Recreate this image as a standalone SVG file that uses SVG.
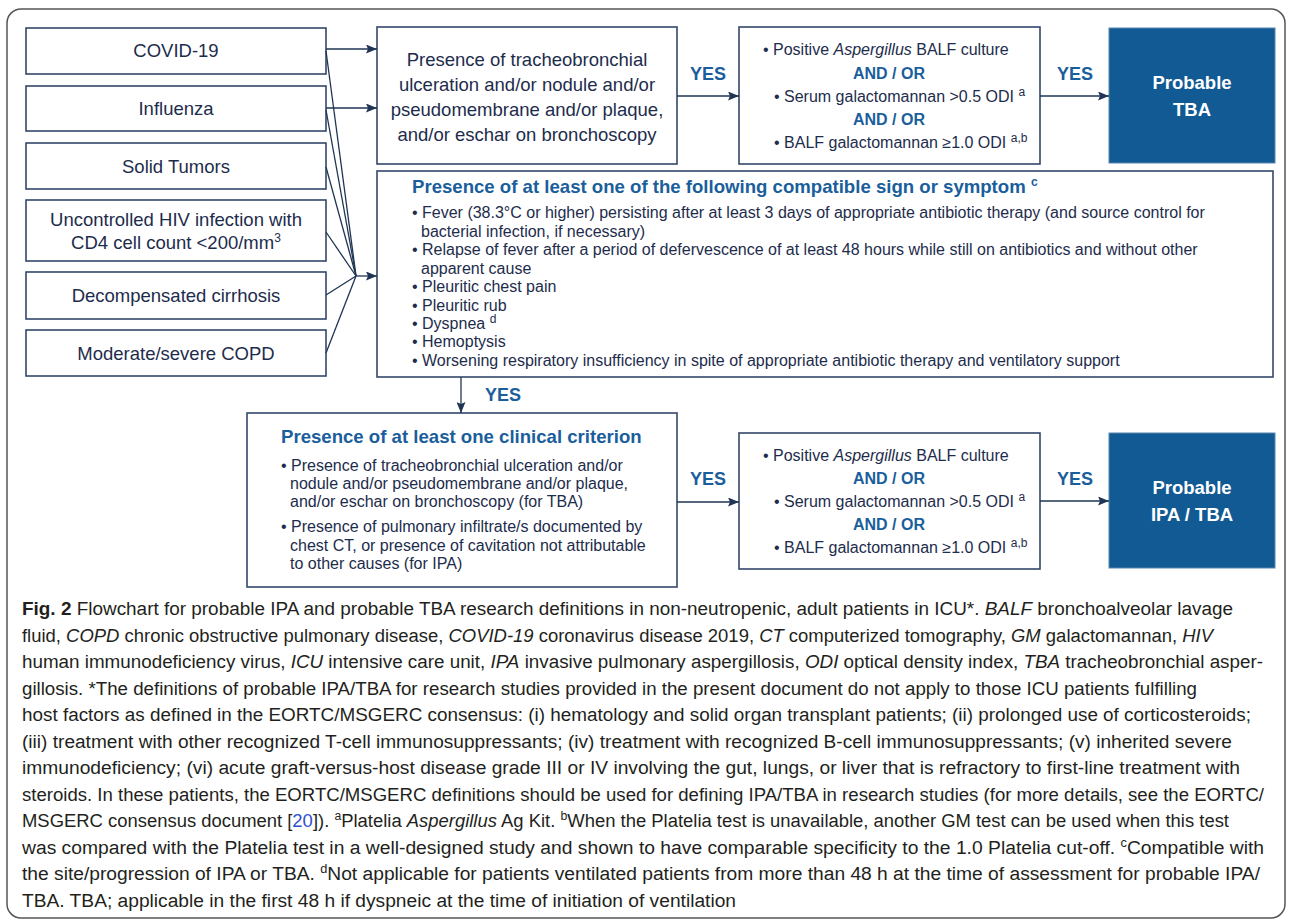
<svg xmlns="http://www.w3.org/2000/svg" width="1290" height="923" viewBox="0 0 1290 923">
<defs>
<marker id="ah" markerUnits="userSpaceOnUse" markerWidth="11" markerHeight="9" refX="11" refY="4.5" orient="auto">
<path d="M0,0 L11,4.5 L0,9 L2,4.5 z" fill="#1f3553"/>
</marker>
</defs>
<style>
.t{font-family:"Liberation Sans",Arial,Helvetica,sans-serif;fill:#1d2c4c}
.box{fill:#fff;stroke:#34486a;stroke-width:1.6}
.dark{fill:#115a94;stroke:#5a86b0;stroke-width:1}
.lbl{font-size:18.5px;text-anchor:middle}
.sm{font-size:16px}
.b3{font-size:16px}
.hd{font-weight:bold;fill:#1a5e9c;font-size:18.6px}
.ao{font-weight:bold;fill:#1a5e9c;font-size:16px;text-anchor:middle}
.yes{font-weight:bold;fill:#1a5e9c;font-size:18px;text-anchor:middle}
.wh{fill:#fff;font-weight:bold;font-size:18.5px;text-anchor:middle}
.sup{font-size:12px}
.cap{font-family:"Liberation Sans",Arial,sans-serif;font-size:18px;fill:#231f20}
.i{font-style:italic}
.con{stroke:#1f3553;stroke-width:1.3;fill:none}
</style>
<rect x="7" y="9" width="1278" height="909" rx="14" fill="#fff" stroke="#555" stroke-width="1.5"/>

<g id="n-covid"><rect class="box" x="26" y="28" width="300" height="46"/><text class="t lbl" x="176" y="57">COVID-19</text></g>
<g id="n-influenza"><rect class="box" x="26" y="86" width="300" height="45"/><text class="t lbl" x="176" y="115">Influenza</text></g>
<g id="n-tumors"><rect class="box" x="26" y="143" width="300" height="46"/><text class="t lbl" x="176" y="173">Solid Tumors</text></g>
<g id="n-hiv"><rect class="box" x="26" y="200" width="300" height="61"/><text class="t lbl" x="176" y="226">Uncontrolled HIV infection with</text><text class="t lbl" x="176" y="249">CD4 cell count &lt;200/mm<tspan class="sup" dy="-7">3</tspan></text></g>
<g id="n-cirrhosis"><rect class="box" x="26" y="272" width="300" height="47"/><text class="t lbl" x="176" y="302">Decompensated cirrhosis</text></g>
<g id="n-copd"><rect class="box" x="26" y="330" width="300" height="46"/><text class="t lbl" x="176" y="360">Moderate/severe COPD</text></g>

<g id="n-bronch"><rect class="box" x="377" y="27" width="300" height="137"/>
<text class="t lbl" x="527" y="66">Presence of tracheobronchial</text>
<text class="t lbl" x="527" y="91">ulceration and/or nodule and/or</text>
<text class="t lbl" x="527" y="116">pseudomembrane and/or plaque,</text>
<text class="t lbl" x="527" y="141">and/or eschar on bronchoscopy</text></g>

<g id="n-myco1"><rect class="box" x="739" y="27" width="301" height="137"/>
<text class="t b3" x="763" y="55">• Positive <tspan class="i">Aspergillus</tspan> BALF culture</text>
<text class="t ao" x="889" y="79">AND / OR</text>
<text class="t b3" x="774" y="102">• Serum galactomannan &gt;0.5 ODI <tspan class="sup" dy="-6">a</tspan></text>
<text class="t ao" x="889" y="125">AND / OR</text>
<text class="t b3" x="774" y="148">• BALF galactomannan ≥1.0 ODI <tspan class="sup" dy="-6">a,b</tspan></text></g>

<g id="n-tba"><rect class="dark" x="1109" y="28" width="166" height="135"/>
<text class="t wh" x="1192" y="89">Probable</text><text class="t wh" x="1192" y="116">TBA</text></g>

<g id="n-signs"><rect class="box" x="377" y="171" width="896" height="206"/>
<text class="t hd" x="412" y="193">Presence of at least one of the following compatible sign or symptom <tspan class="sup" dy="-7">c</tspan></text>
<text class="t sm" x="412" y="218">• Fever (38.3°C or higher) persisting after at least 3 days of appropriate antibiotic therapy (and source control for</text>
<text class="t sm" x="421" y="237">bacterial infection, if necessary)</text>
<text class="t sm" x="412" y="255">• Relapse of fever after a period of defervescence of at least 48 hours while still on antibiotics and without other</text>
<text class="t sm" x="421" y="274">apparent cause</text>
<text class="t sm" x="412" y="292">• Pleuritic chest pain</text>
<text class="t sm" x="412" y="311">• Pleuritic rub</text>
<text class="t sm" x="412" y="329">• Dyspnea <tspan class="sup" dy="-6">d</tspan></text>
<text class="t sm" x="412" y="347">• Hemoptysis</text>
<text class="t sm" x="412" y="366">• Worsening respiratory insufficiency in spite of appropriate antibiotic therapy and ventilatory support</text></g>

<g id="n-clinical"><rect class="box" x="247" y="413" width="430" height="174"/>
<text class="t hd" x="281" y="443">Presence of at least one clinical criterion</text>
<text class="t sm" x="281" y="471">• Presence of tracheobronchial ulceration and/or</text>
<text class="t sm" x="290" y="489">nodule and/or pseudomembrane and/or plaque,</text>
<text class="t sm" x="290" y="507">and/or eschar on bronchoscopy (for TBA)</text>
<text class="t sm" x="281" y="532">• Presence of pulmonary infiltrate/s documented by</text>
<text class="t sm" x="290" y="551">chest CT, or presence of cavitation not attributable</text>
<text class="t sm" x="290" y="569">to other causes (for IPA)</text></g>

<g id="n-myco2"><rect class="box" x="739" y="433" width="301" height="136"/>
<text class="t b3" x="763" y="461">• Positive <tspan class="i">Aspergillus</tspan> BALF culture</text>
<text class="t ao" x="889" y="484">AND / OR</text>
<text class="t b3" x="774" y="507">• Serum galactomannan &gt;0.5 ODI <tspan class="sup" dy="-6">a</tspan></text>
<text class="t ao" x="889" y="530">AND / OR</text>
<text class="t b3" x="774" y="553">• BALF galactomannan ≥1.0 ODI <tspan class="sup" dy="-6">a,b</tspan></text></g>

<g id="n-ipatba"><rect class="dark" x="1109" y="433" width="166" height="135"/>
<text class="t wh" x="1192" y="494">Probable</text><text class="t wh" x="1192" y="521">IPA / TBA</text></g>

<g id="connectors">
<line class="con" x1="326" y1="49" x2="377" y2="49" marker-end="url(#ah)"/>
<line class="con" x1="326" y1="108" x2="377" y2="108" marker-end="url(#ah)"/>
<polyline class="con" points="326,51 356,276"/>
<polyline class="con" points="326,110 356,276"/>
<polyline class="con" points="326,167 356,276"/>
<polyline class="con" points="326,232 356,276"/>
<polyline class="con" points="326,295 356,276"/>
<polyline class="con" points="326,353 356,276"/>
<line class="con" x1="356" y1="276" x2="377" y2="276" marker-end="url(#ah)"/>
<line class="con" x1="677" y1="96" x2="739" y2="96" marker-end="url(#ah)"/>
<line class="con" x1="1040" y1="96" x2="1109" y2="96" marker-end="url(#ah)"/>
<line class="con" x1="461" y1="377" x2="461" y2="413" marker-end="url(#ah)"/>
<line class="con" x1="677" y1="502" x2="739" y2="502" marker-end="url(#ah)"/>
<line class="con" x1="1040" y1="501" x2="1109" y2="501" marker-end="url(#ah)"/>
<text class="t yes" x="708" y="80">YES</text>
<text class="t yes" x="1075" y="80">YES</text>
<text class="t yes" x="503" y="401">YES</text>
<text class="t yes" x="708" y="485">YES</text>
<text class="t yes" x="1075" y="485">YES</text>
</g>

<g id="caption">
<text class="cap" x="22" y="615" textLength="1211" lengthAdjust="spacingAndGlyphs"><tspan font-weight="bold">Fig. 2</tspan>  Flowchart for probable IPA and probable TBA research definitions in non-neutropenic, adult patients in ICU*. <tspan class="i">BALF</tspan> bronchoalveolar lavage</text>
<text class="cap" x="22" y="641.5" textLength="1191" lengthAdjust="spacingAndGlyphs">fluid, <tspan class="i">COPD</tspan> chronic obstructive pulmonary disease, <tspan class="i">COVID-19</tspan> coronavirus disease 2019, <tspan class="i">CT</tspan> computerized tomography, <tspan class="i">GM</tspan> galactomannan, <tspan class="i">HIV</tspan></text>
<text class="cap" x="22" y="668" textLength="1241" lengthAdjust="spacingAndGlyphs">human immunodeficiency virus, <tspan class="i">ICU</tspan> intensive care unit, <tspan class="i">IPA</tspan> invasive pulmonary aspergillosis, <tspan class="i">ODI</tspan> optical density index, <tspan class="i">TBA</tspan> tracheobronchial asper-</text>
<text class="cap" x="22" y="694.5" textLength="1175" lengthAdjust="spacingAndGlyphs">gillosis. *The definitions of probable IPA/TBA for research studies provided in the present document do not apply to those ICU patients fulfilling</text>
<text class="cap" x="22" y="721" textLength="1229" lengthAdjust="spacingAndGlyphs">host factors as defined in the EORTC/MSGERC consensus: (i) hematology and solid organ transplant patients; (ii) prolonged use of corticosteroids;</text>
<text class="cap" x="22" y="747.5" textLength="1210" lengthAdjust="spacingAndGlyphs">(iii) treatment with other recognized T-cell immunosuppressants; (iv) treatment with recognized B-cell immunosuppressants; (v) inherited severe</text>
<text class="cap" x="22" y="774" textLength="1218" lengthAdjust="spacingAndGlyphs">immunodeficiency; (vi) acute graft-versus-host disease grade III or IV involving the gut, lungs, or liver that is refractory to first-line treatment with</text>
<text class="cap" x="22" y="800.5" textLength="1242" lengthAdjust="spacingAndGlyphs">steroids. In these patients, the EORTC/MSGERC definitions should be used for defining IPA/TBA in research studies (for more details, see the EORTC/</text>
<text class="cap" x="22" y="827" textLength="1207" lengthAdjust="spacingAndGlyphs">MSGERC consensus document [<tspan fill="#2f4fd0">20</tspan>]). <tspan class="sup" dy="-7">a</tspan><tspan dy="7">Platelia </tspan><tspan class="i">Aspergillus</tspan> Ag Kit. <tspan class="sup" dy="-7">b</tspan><tspan dy="7">When the Platelia test is unavailable, another GM test can be used when this test</tspan></text>
<text class="cap" x="22" y="853.5" textLength="1242" lengthAdjust="spacingAndGlyphs">was compared with the Platelia test in a well-designed study and shown to have comparable specificity to the 1.0 Platelia cut-off. <tspan class="sup" dy="-7">c</tspan><tspan dy="7">Compatible with</tspan></text>
<text class="cap" x="22" y="880" textLength="1238" lengthAdjust="spacingAndGlyphs">the site/progression of IPA or TBA. <tspan class="sup" dy="-7">d</tspan><tspan dy="7">Not applicable for patients ventilated patients from more than 48 h at the time of assessment for probable IPA/</tspan></text>
<text class="cap" x="22" y="906.5" textLength="714" lengthAdjust="spacingAndGlyphs">TBA. TBA; applicable in the first 48 h if dyspneic at the time of initiation of ventilation</text>
</g>
</svg>
